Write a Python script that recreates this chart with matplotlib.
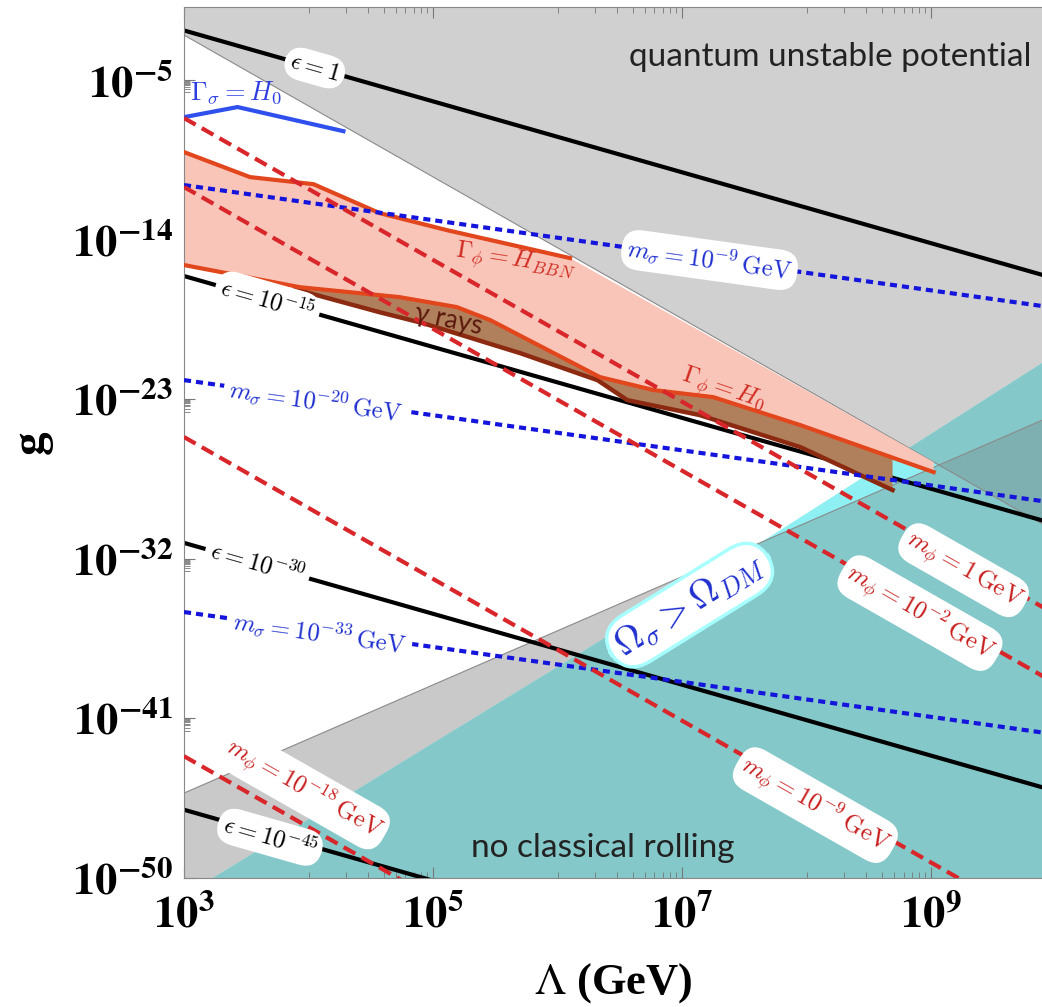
import numpy as np
import matplotlib.pyplot as plt
from matplotlib.ticker import FixedLocator, FixedFormatter, NullFormatter

plt.rcParams.update({
    "mathtext.fontset": "stix",
    "font.family": ["Liberation Serif", "DejaVu Serif"],
})

# --- data (log10 values) ---
lam_lim = (3.0, 9.89)          # log10 Lambda range
g_lim = (-50.0, -0.88)         # log10 g range
lam_ends = [3.0, 10.0]

# black solid lines: epsilon
eps_text = [r"$\epsilon = 1$", r"$\epsilon = 10^{-15}$",
            r"$\epsilon = 10^{-30}$", r"$\epsilon = 10^{-45}$"]
eps_g = [(-2.2, -16.2), (-16.05, -30.05), (-31.1, -45.1), (-46.15, -60.15)]
eps_lab_xy = [(4.05, -4.32), (3.67, -17.41), (3.59, -32.24), (3.69, -47.70)]

# blue dotted lines: m_sigma
msig_text = [r"$m_\sigma = 10^{-9}\,\mathrm{GeV}$", r"$m_\sigma = 10^{-20}\,\mathrm{GeV}$",
             r"$m_\sigma = 10^{-33}\,\mathrm{GeV}$"]
msig_g = [(-10.92, -17.85), (-21.92, -28.85), (-35.0, -41.9)]
msig_lab_xy = [(7.22, -15.15), (4.06, -23.10), (4.09, -36.19)]

# red dashed lines: m_phi
mphi_text = [r"$m_\phi = 1\,\mathrm{GeV}$", r"$m_\phi = 10^{-2}\,\mathrm{GeV}$",
             r"$m_\phi = 10^{-9}\,\mathrm{GeV}$", r"$m_\phi = 10^{-18}\,\mathrm{GeV}$"]
mphi_g = [(-7.14, -35.14), (-11.03, -39.03), (-25.13, -53.13), (-43.13, -71.13)]
mphi_lab_xy = [(9.26, -32.64), (8.91, -35.06), (8.07, -45.89), (3.96, -45.0)]

# shaded region boundaries
unstable_x = [3.0, 10.0]
unstable_g = [-2.46, -30.46]
rolling_x = [3.0, 10.0]
rolling_g = [-45.21, -23.85]
dm_x = [3.0, 7.65, 10.0]
dm_g = [-51.0, -31.0, -20.47]

# Gamma_phi = H_BBN (upper edge of pink band)
hbbn_x = [3.0, 3.53, 4.04, 4.57, 5.11, 6.10]
hbbn_g = [-9.06, -10.47, -10.87, -12.50, -13.46, -15.04]
band_end = (9.02, -26.54)
# Gamma_phi = H_0 (lower edge of pink band)
h0_x = [3.0, 3.93, 4.73, 5.19, 5.46, 6.34, 6.77, 7.25, 7.95, 9.02]
h0_g = [-15.43, -16.68, -17.24, -17.80, -18.54, -21.75, -22.48, -22.88, -24.46, -27.11]
# gamma rays region
gam_top_x = [3.89, 4.73, 5.19, 5.46, 6.34, 6.77, 7.25, 7.95, 8.69]
gam_top_g = [-16.62, -17.24, -17.80, -18.54, -21.75, -22.48, -22.88, -24.46, -26.29]
gam_bot_x = [3.89, 4.57, 4.92, 5.70, 6.32, 6.56, 7.14, 7.95, 8.69]
gam_bot_g = [-16.79, -18.09, -18.71, -20.40, -21.92, -23.05, -23.89, -25.70, -28.12]
# Gamma_sigma = H_0
gsig_x = [3.0, 3.43, 4.28]
gsig_g = [-7.09, -6.52, -7.88]

xticks_exp = [3, 5, 7, 9]
yticks_exp = [-50, -41, -32, -23, -14, -5]


def p(v):
    return 10.0 ** np.asarray(v, dtype=float)


fig = plt.figure(figsize=(10.42, 10.07), dpi=100)
ax = fig.add_axes([0.1766, 0.1281, 0.8234, 0.8649])
ax.set_xscale("log")
ax.set_yscale("log")
ax.set_xlim(p(lam_lim[0]), p(lam_lim[1]))
ax.set_ylim(p(g_lim[0]), p(g_lim[1]))

# --- shaded regions ---
top, bot = 1.0, 1e-60
ua = ax.fill(p(unstable_x + [10.0, 3.0]), list(p(unstable_g)) + [top, top],
             color="#d0d0d0", lw=0, zorder=1)[0]
lb = ax.fill(p(rolling_x + [10.0, 3.0]), list(p(rolling_g)) + [bot, bot],
             color="#c9c9c9", lw=0, zorder=1)[0]
dm_px = p(dm_x + [10.0, 3.0])
dm_py = list(p(dm_g)) + [bot, bot]
ax.fill(dm_px, dm_py, color="#8ef0f2", lw=0, zorder=1.1)
t1 = ax.fill(dm_px, dm_py, color="#84c8c9", lw=0, zorder=1.2)[0]
t1.set_clip_path(ua)
t2 = ax.fill(dm_px, dm_py, color="#84c8c9", lw=0, zorder=1.2)[0]
t2.set_clip_path(lb)
t3 = ax.fill(p(unstable_x + [10.0, 3.0]), list(p(unstable_g)) + [top, top],
             color="#7fb0b1", lw=0, zorder=1.3)[0]
t3.set_clip_path(lb)
ax.plot(p(unstable_x), p(unstable_g), color="#8a8a8a", lw=0.8, zorder=1.5)
ax.plot(p(rolling_x), p(rolling_g), color="#8a8a8a", lw=0.8, zorder=1.5)

# --- epsilon lines (under the bands) ---
for gg in eps_g:
    ax.plot(p(lam_ends), p(gg), color="black", lw=3, zorder=2.1)

# pink band
band_x = hbbn_x + [band_end[0]] + h0_x[::-1]
band_g = hbbn_g + [band_end[1]] + h0_g[::-1]
ax.fill(p(band_x), p(band_g), color="#f9c5b9", lw=0, zorder=2.3)
# gamma rays band
ax.fill(p(gam_top_x + gam_bot_x[::-1]), p(gam_top_g + gam_bot_g[::-1]),
        color="#b0805d", lw=0, zorder=2.4)
ax.plot(p(gam_bot_x), p(gam_bot_g), color="#8b2a10", lw=3.2, zorder=3.4)
ax.plot(p(hbbn_x), p(hbbn_g), color="#e2461c", lw=3, zorder=3.5)
ax.plot(p(h0_x), p(h0_g), color="#e2461c", lw=3, zorder=3.5)
ax.plot(p(gsig_x), p(gsig_g), color="#3050ee", lw=3, zorder=3.5)

for gg in msig_g:
    ax.plot(p(lam_ends), p(gg), color="#1414dc", lw=3, ls=(0, (1.7, 1.2)),
            dash_capstyle="butt", zorder=4)
for gg in mphi_g:
    ax.plot(p(lam_ends), p(gg), color="#d8262a", lw=3, ls=(0, (3.2, 1.7)),
            dash_capstyle="butt", zorder=4.1)


def label(xy, s, color, rot, size=18, box=True, **kw):
    bb = None
    if box:
        bb = dict(boxstyle="round,pad=0.22,rounding_size=0.75", fc="white", ec="none")
    ax.text(p(xy[0]), p(xy[1]), s, color=color, rotation=rot, fontsize=size,
            ha="center", va="center", rotation_mode="anchor", bbox=bb,
            math_fontfamily="cm", zorder=10, **kw)


for xy, s in zip(eps_lab_xy, eps_text):
    label(xy, s, "black", -15.9)
for xy, s in zip(msig_lab_xy, msig_text):
    label(xy, s, "#1f2fd0", -7.9)
for xy, s in zip(mphi_lab_xy, mphi_text):
    label(xy, s, "#c81e1e", -29.7)

label((5.66, -15.27), r"$\Gamma_\phi = H_{BBN}$", "#d02a20", -9, box=False)
label((7.33, -22.48), r"$\Gamma_\phi = H_0$", "#d02a20", -19, box=False)
label((3.42, -5.68), r"$\Gamma_\sigma = H_0$", "#2d3fe0", 0, size=19, box=False)
ax.text(p(7.06), p(-34.61), r"$\Omega_\sigma > \Omega_{DM}$", color="#2030d0",
        rotation=31.8, fontsize=27, ha="center", va="center", rotation_mode="anchor",
        math_fontfamily="cm", zorder=10,
        bbox=dict(boxstyle="round,pad=0.22,rounding_size=0.8", fc="white",
                  ec="#a8ffff", lw=2.5))

ax.text(p(5.12), p(-18.50), "γ rays", color="#5c1a0c", rotation=-12, fontsize=19,
        family=["Lato", "DejaVu Sans"], ha="center", va="center",
        rotation_mode="anchor", zorder=6)
ax.text(p(8.19), p(-3.70), "quantum unstable potential", color="#222222",
        fontsize=24, family=["Lato", "DejaVu Sans"], ha="center", va="center", zorder=6)
ax.text(p(6.36), p(-48.32), "no classical rolling", color="#222222",
        fontsize=24, family=["Lato", "DejaVu Sans"], ha="center", va="center", zorder=6)

# --- axes styling ---
ax.xaxis.set_major_locator(FixedLocator(p(xticks_exp)))
ax.xaxis.set_major_formatter(FixedFormatter([r"$\mathbf{10^{%d}}$" % e for e in xticks_exp]))
ax.yaxis.set_major_locator(FixedLocator(p(yticks_exp)))
ax.yaxis.set_major_formatter(FixedFormatter([r"$\mathbf{10^{%d}}$" % e for e in yticks_exp]))
xminor = [k * 10.0 ** (e - 1) for e in [5, 7, 9] for k in range(1, 10)]
yminor = [k * 10.0 ** (e - 1) for e in yticks_exp for k in range(2, 10)]
ax.xaxis.set_minor_locator(FixedLocator(xminor))
ax.yaxis.set_minor_locator(FixedLocator(yminor))
ax.xaxis.set_minor_formatter(NullFormatter())
ax.yaxis.set_minor_formatter(NullFormatter())
ax.tick_params(which="both", direction="in", color="#777777", top=True, right=False,
               labelsize=32)
ax.tick_params(axis="y", pad=8)
ax.tick_params(axis="x", pad=12)
ax.tick_params(which="major", length=8, width=0.8)
ax.tick_params(which="minor", length=4, width=0.6)
for side in ["left", "bottom", "top"]:
    ax.spines[side].set_color("#888888")
    ax.spines[side].set_linewidth(0.8)
ax.spines["right"].set_visible(False)

ax.set_xlabel(r"$\Lambda$ (GeV)", fontsize=32, fontweight="bold", labelpad=18)
ax.set_ylabel("g", fontsize=34, fontweight="bold", labelpad=14)

fig.savefig("out.png", dpi=100)
